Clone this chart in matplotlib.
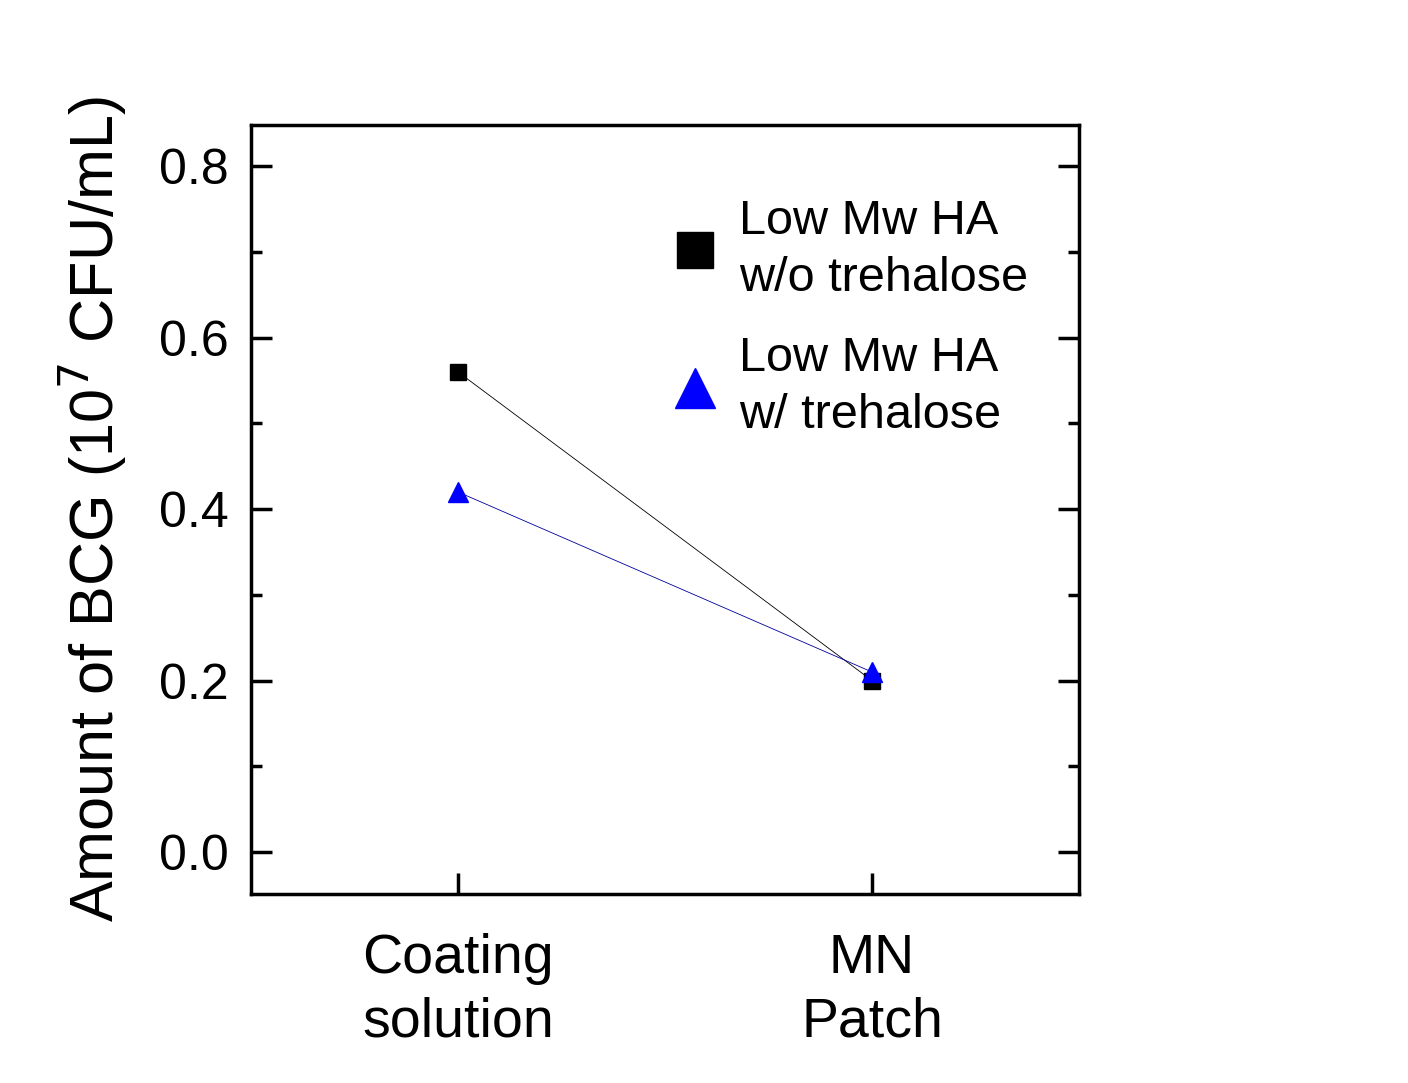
import numpy as np
import matplotlib
matplotlib.use("Agg")
import matplotlib.pyplot as plt
from matplotlib.ticker import MultipleLocator

plt.rcParams['font.family'] = ['Liberation Sans', 'DejaVu Sans']

# data
stages = ["Coating\nsolution", "MN\nPatch"]
no_treh = [0.56, 0.20]
with_treh = [0.42, 0.21]
labels = ["Low Mw HA\nw/o trehalose", "Low Mw HA\nw/ trehalose"]

xpos = np.arange(1, len(stages) + 1)

fig = plt.figure(figsize=(14.08, 10.83), dpi=100)
ax = fig.add_axes([0.1783, 0.1745, 0.588, 0.71])

ax.plot(xpos, no_treh, color='black', lw=0.6, marker='s', ms=12,
        mfc='black', mec='black', label=labels[0])
ax.plot(xpos, with_treh, color='#000099', lw=0.6, marker='^', ms=14,
        mfc='#0000ff', mec='#0000ff', label=labels[1])

ax.set_xlim(0.5, 2.5)
ax.set_ylim(-0.049, 0.848)
ax.set_xticks(xpos)
ax.set_xticklabels(stages, fontsize=40, linespacing=1.3)
ax.yaxis.set_major_locator(MultipleLocator(0.2))
ax.yaxis.set_minor_locator(MultipleLocator(0.1))
ax.yaxis.set_major_formatter(matplotlib.ticker.FormatStrFormatter('%.1f'))

ax.tick_params(axis='y', which='major', direction='in', length=15, width=2.5,
               labelsize=36, right=True, pad=16)
ax.tick_params(axis='y', which='minor', direction='in', length=8, width=2.5,
               right=True)
ax.tick_params(axis='x', which='major', direction='in', length=15, width=2.5,
               pad=28)
for sp in ax.spines.values():
    sp.set_linewidth(2.5)

ax.set_ylabel("Amount of BCG (10$^{7}$ CFU/mL)", fontsize=44, labelpad=22)

leg = ax.legend(loc='upper right', bbox_to_anchor=(0.991, 0.961), frameon=False,
                fontsize=35, markerscale=2.1, handlelength=0.6,
                handletextpad=0.6, labelspacing=0.72)
for h in leg.legend_handles:
    h.set_linestyle('None')
for t in leg.get_texts():
    t.set_linespacing(1.35)

fig.savefig("out.png", dpi=100)
